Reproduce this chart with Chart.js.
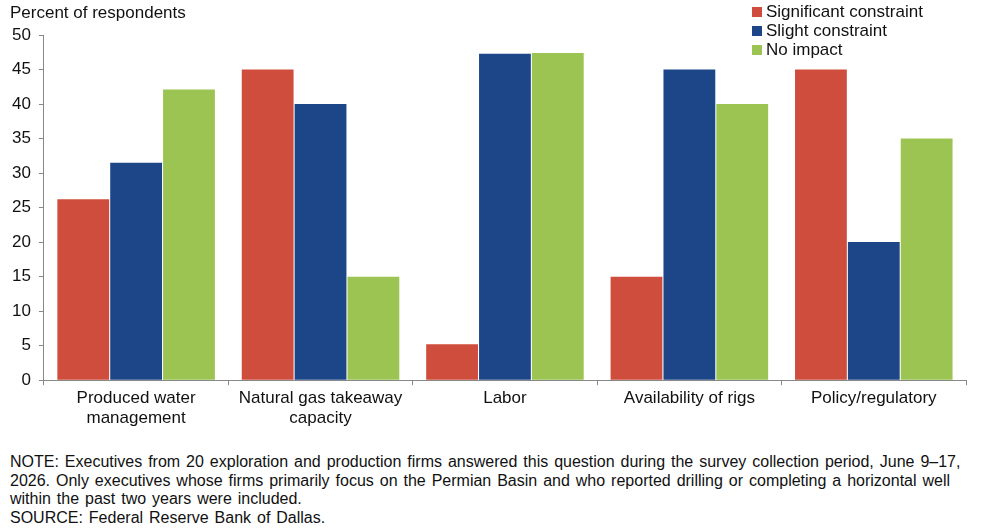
<!DOCTYPE html>
<html>
<head>
<meta charset="utf-8">
<script src="https://cdn.jsdelivr.net/npm/chart.js@4"></script>
<style>
  body { margin: 0; background: #fff; font-family: 'Liberation Sans', Arial, sans-serif; color: #111; }
  #wrap { position: relative; width: 997px; height: 531px; }
  #chart-box { position: absolute; left: 0; top: 0; width: 997px; height: 440px; }
  #ytitle { position: absolute; left: 10px; top: 3px; font-size: 17px; }
  #legend { position: absolute; left: 752px; top: 2px; font-size: 17px; line-height: 19px; }
  #legend .sw { display: inline-block; width: 10px; height: 10px; margin-right: 4px; }
  #notes { position: absolute; left: 10px; top: 453px; width: 985px; font-size: 16px; line-height: 18.5px; white-space: nowrap; word-spacing: 1.5px; }
</style>
</head>
<body>
<div id="wrap">
  <div id="chart-box"><canvas id="bar-chart"></canvas></div>
  <div id="ytitle">Percent of respondents</div>
  <div id="legend"></div>
  <div id="notes">
    NOTE: Executives from 20 exploration and production firms answered this question during the survey collection period, June 9–17,<br>
    2026. Only executives whose firms primarily focus on the Permian Basin and who reported drilling or completing a horizontal well<br>
    within the past two years were included.<br>
    SOURCE: Federal Reserve Bank of Dallas.
  </div>
</div>
<script>
// Constraints reported by Permian Basin executives
const categories = [
    ['Produced water', 'management'],
    ['Natural gas takeaway', 'capacity'],
    'Labor',
    'Availability of rigs',
    'Policy/regulatory'
];
const seriesNames = ['Significant constraint', 'Slight constraint', 'No impact'];
const significant = [26.2, 45.0, 5.2, 15.0, 45.0];
const slight = [31.5, 40.0, 47.3, 45.0, 20.0];
const noImpact = [42.1, 15.0, 47.4, 40.0, 35.0];
const yTicks = [0, 5, 10, 15, 20, 25, 30, 35, 40, 45, 50];

const COLORS = ['#cf4d3d', '#1c4688', '#9cc452'];

// Legend built from the series list
const legend = document.getElementById('legend');
seriesNames.forEach((name, i) => {
    const row = document.createElement('div');
    row.innerHTML = `<span class="sw" style="background:${COLORS[i]}"></span>${name}`;
    legend.appendChild(row);
});

const values = [significant, slight, noImpact];
const datasets = seriesNames.map((name, i) => ({
    label: name,
    data: values[i],
    backgroundColor: COLORS[i],
    borderWidth: 0,
    categoryPercentage: 0.86,
    barPercentage: 0.98
}));

const ctx = document.getElementById('bar-chart').getContext('2d');
new Chart(ctx, {
    type: 'bar',
    data: { labels: categories, datasets: datasets },
    options: {
        responsive: true,
        maintainAspectRatio: false,
        animation: false,
        layout: { padding: { top: 35, right: 31, left: 4, bottom: 8 } },
        plugins: {
            legend: { display: false },
            tooltip: { enabled: false }
        },
        scales: {
            x: {
                grid: {
                    offset: true,
                    drawOnChartArea: false,
                    drawTicks: true,
                    tickLength: 5,
                    color: '#888'
                },
                border: { color: '#888' },
                ticks: {
                    color: '#111',
                    font: { family: 'Liberation Sans', size: 17 },
                    maxRotation: 0,
                    padding: 3
                }
            },
            y: {
                min: 0,
                max: 50,
                afterBuildTicks: axis => { axis.ticks = yTicks.map(v => ({ value: v })); },
                grid: {
                    drawOnChartArea: false,
                    drawTicks: true,
                    tickLength: 5,
                    color: '#888'
                },
                border: { color: '#888' },
                ticks: {
                    color: '#111',
                    font: { family: 'Liberation Sans', size: 17 },
                    padding: 8
                }
            }
        }
    }
});
</script>
</body>
</html>
